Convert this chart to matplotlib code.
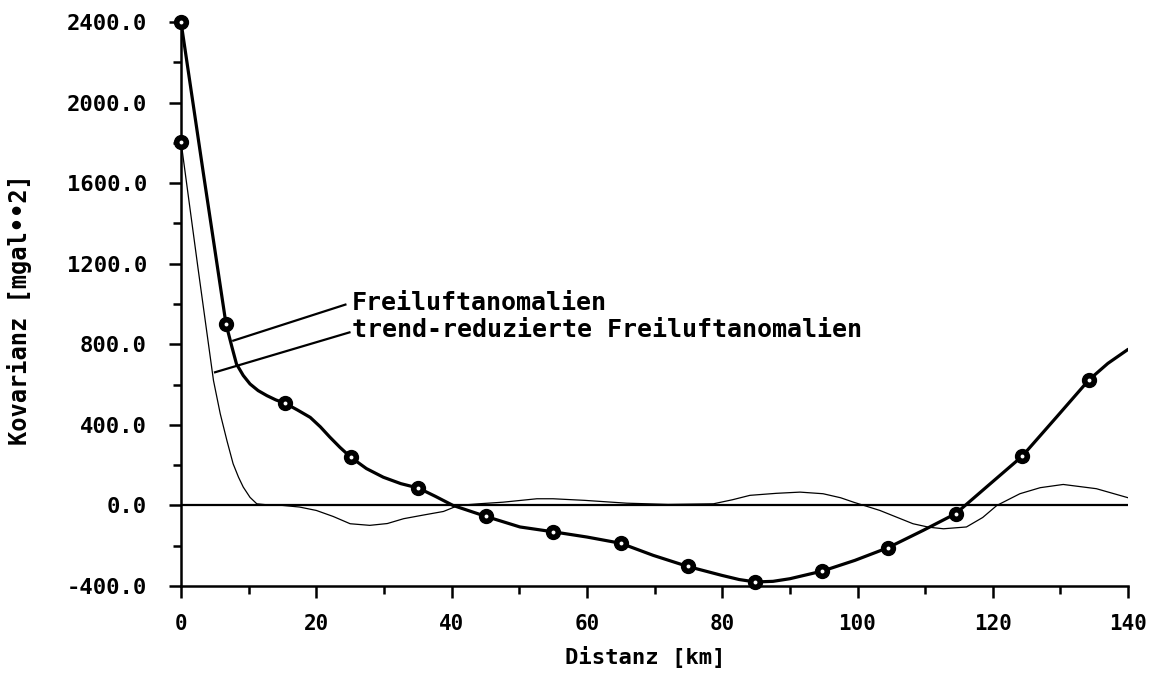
import matplotlib
matplotlib.use("Agg")
import matplotlib.pyplot as plt
from matplotlib.ticker import MultipleLocator, FormatStrFormatter

# --- data ---
# "Freiluftanomalien" covariance curve (thick) and its sample markers
thick_x = [0, 3.3, 6.65, 7.5, 8.2, 9.2, 10.2, 11.4, 12.7, 14.0, 15.4, 17.2, 19.1,
           20.6, 22.0, 23.5, 25.1, 27.4, 29.9, 32.5, 35.1, 37.6, 40.2,
           45.1, 50.1, 55.0, 60.0, 65.0, 69.8, 74.9, 79.9, 82.5, 84.9, 87.5, 90.0,
           94.8, 99.6, 104.5, 109.7, 114.5, 119.6, 124.3, 129.4, 134.2, 137.0, 140.0]
thick_y = [2400, 1650, 901, 790, 702, 645, 603, 570, 545, 524, 507, 474, 437,
           390, 339, 288, 239, 183, 140, 108, 86, 45, 0,
           -55, -107, -131, -157, -188, -248, -303, -347, -368, -380, -377, -364,
           -326, -273, -210, -124, -41, 107, 243, 438, 623, 705, 775]
mark_x = [0, 6.65, 15.4, 25.1, 35.1, 45.1, 55.0, 65.0, 74.9, 84.9, 94.8, 104.5,
          114.5, 124.3, 134.2]
mark_y = [2400, 901, 507, 239, 86, -55, -131, -188, -303, -380, -326, -210,
          -41, 243, 623]

# "trend-reduzierte Freiluftanomalien" covariance curve (thin)
thin_x = [0, 2.5, 4.8, 5.8, 6.8, 7.7, 8.5, 9.2, 10.2, 11.2, 13.0, 15.0, 17.5, 20.0,
          22.5, 25.0, 27.9, 30.5, 32.9, 35.8, 38.8,
          41.0, 44.0, 47.6, 52.6, 55.0, 59.7, 65.9, 72.0, 78.7, 81.5, 84.1, 88.0,
          91.5, 94.9, 97.5, 99.5, 103.3, 108.2, 110.5, 112.7, 116.1, 118.5, 120.6,
          124.0, 127.0, 130.4, 135.3, 140.0]
thin_y = [1806, 1181, 620, 455, 320, 207, 140, 91, 40, 8, 2, 0, -8, -25,
          -55, -91, -99, -90, -66, -48, -30,
          0, 8, 16, 33, 33, 25, 11, 5, 8, 28, 50, 60,
          66, 58, 38, 15, -25, -91, -108, -116, -107, -60, 0,
          58, 88, 104, 83, 38]

x_ticks = [0, 20, 40, 60, 80, 100, 120, 140]
y_ticks = [-400, 0, 400, 800, 1200, 1600, 2000, 2400]

label_1 = "Freiluftanomalien"
label_2 = "trend-reduzierte Freiluftanomalien"
x_label = "Distanz [km]"
y_label = "Kovarianz [mgal••2]"

# --- figure ---
plt.rcParams['font.family'] = ['DejaVu Sans Mono', 'DejaVu Sans']
fig = plt.figure(figsize=(11.5, 6.79), dpi=100)
ax = fig.add_axes([0.1574, 0.137, 0.981 - 0.1574, 0.9676 - 0.137])

ax.axhline(0, color='black', lw=1.6, zorder=1)
ax.plot(thin_x, thin_y, color='black', lw=0.9, zorder=2)
ax.plot(thick_x, thick_y, color='black', lw=2.3, zorder=3,
        solid_joinstyle='round', solid_capstyle='round')

marker_style = dict(linestyle='none', zorder=4, clip_on=False)
ax.plot(mark_x, mark_y, marker='o', markersize=10, markerfacecolor='black',
        markeredgecolor='black', markeredgewidth=1, **marker_style)
ax.plot(mark_x, mark_y, marker='o', markersize=2.8, markerfacecolor='white',
        markeredgewidth=0, **marker_style)
ax.plot(thin_x[:1], thin_y[:1], marker='o', markersize=10, markerfacecolor='black',
        markeredgecolor='black', markeredgewidth=1, **marker_style)
ax.plot(thin_x[:1], thin_y[:1], marker='o', markersize=2.8, markerfacecolor='white',
        markeredgewidth=0, **marker_style)

# annotation leader lines and labels
ax.plot([7.73, 24.3], [818, 997], color='black', lw=1.6, zorder=3)
ax.plot([5.03, 24.9], [661, 859], color='black', lw=1.6, zorder=3)
ax.text(25.3, 1006, label_1, ha='left', va='center', fontsize=18, fontweight='bold')
ax.text(25.3, 873, label_2, ha='left', va='center', fontsize=18, fontweight='bold')

ax.set_xlim(0, 140)
ax.set_ylim(-400, 2400)
ax.set_xticks(x_ticks)
ax.set_yticks(y_ticks)
ax.xaxis.set_minor_locator(MultipleLocator(10))
ax.yaxis.set_minor_locator(MultipleLocator(200))
ax.yaxis.set_major_formatter(FormatStrFormatter('%.1f'))

for s in ['top', 'right']:
    ax.spines[s].set_visible(False)
for s in ['left', 'bottom']:
    ax.spines[s].set_linewidth(1.8)

ax.tick_params(axis='both', which='major', direction='out', length=8.5, width=1.8)
ax.tick_params(axis='both', which='minor', direction='out', length=5.5, width=1.8)
ax.tick_params(axis='y', which='major', pad=16, labelsize=16)
ax.tick_params(axis='x', which='major', pad=12, labelsize=15)
for lab in ax.get_xticklabels() + ax.get_yticklabels():
    lab.set_fontweight('bold')

fig.text(645 / 1150, (679 - 657) / 679, x_label, ha='center', va='center',
         fontsize=16, fontweight='bold')
fig.text(20 / 1150, (679 - 310) / 679, y_label, ha='center', va='center',
         rotation=90, fontsize=17, fontweight='bold')

fig.savefig('out.png', dpi=100)
